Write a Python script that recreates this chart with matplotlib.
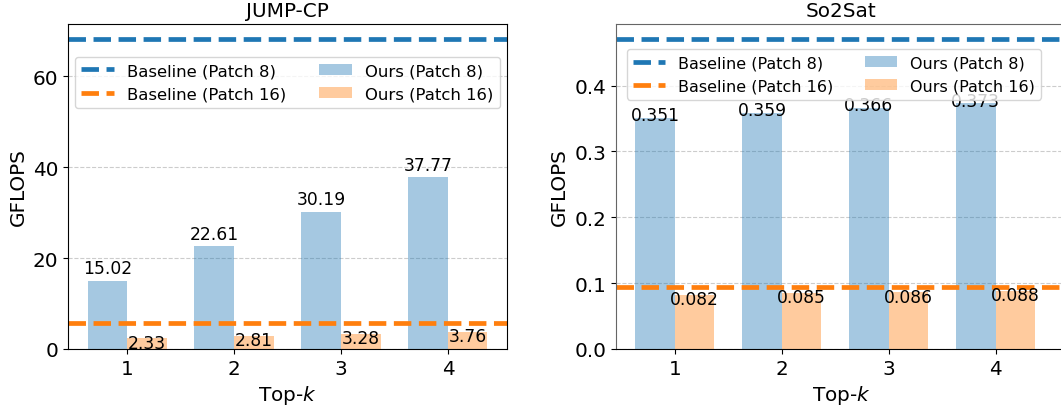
import matplotlib

matplotlib.use("Agg")
import matplotlib.pyplot as plt
from matplotlib.ticker import MultipleLocator
import numpy as np

# ============================================================
# Data
# ============================================================
top_k = [1, 2, 3, 4]

jump_ours_p8 = [15.02, 22.61, 30.19, 37.77]
jump_ours_p16 = [2.33, 2.81, 3.28, 3.76]
jump_base_p8 = 68.1
jump_base_p16 = 5.66

so2sat_ours_p8 = [0.351, 0.359, 0.366, 0.373]
so2sat_ours_p16 = [0.082, 0.085, 0.086, 0.088]
so2sat_base_p8 = 0.470
so2sat_base_p16 = 0.094

BLUE = "#1f77b4"
ORANGE = "#ff7f0e"
WIDTH = 0.37


def _panel(axis, title, ours_p8, ours_p16, base_p8, base_p16, fmt, ystep,
           blue_pad, legend_size, legend_anchor):
    positions = np.array(top_k, dtype=float)
    axis.grid(axis="y", linestyle="--", color="#cccccc", linewidth=0.8)
    axis.set_axisbelow(True)

    axis.axhline(base_p8, color=BLUE, linestyle="--", linewidth=3.4, label="Baseline (Patch 8)")
    axis.axhline(base_p16, color=ORANGE, linestyle="--", linewidth=3.4, label="Baseline (Patch 16)")
    bars_p8 = axis.bar(positions - WIDTH / 2, ours_p8, WIDTH, color=BLUE, alpha=0.4,
                       label="Ours (Patch 8)")
    bars_p16 = axis.bar(positions + WIDTH / 2, ours_p16, WIDTH, color=ORANGE, alpha=0.4,
                        label="Ours (Patch 16)")

    for bar, value in zip(bars_p8, ours_p8):
        axis.annotate(fmt.format(value), (bar.get_x() + bar.get_width() / 2, value),
                      xytext=(0, blue_pad), textcoords="offset points",
                      ha="center", va="center", fontsize=12.3)
    for bar, value in zip(bars_p16, ours_p16):
        axis.annotate(fmt.format(value), (bar.get_x() + bar.get_width() / 2, value),
                      xytext=(0, -3), textcoords="offset points",
                      ha="center", va="center", fontsize=12.3)

    axis.set_ylim(0, max(base_p8, base_p16) * 1.05)
    axis.yaxis.set_major_locator(MultipleLocator(ystep))
    axis.set_xticks(positions)
    axis.set_xticklabels([str(k) for k in top_k])
    axis.tick_params(labelsize=14.4)
    axis.set_title(title, fontsize=14.4)
    axis.set_xlabel("Top-$k$", fontsize=14.4)
    axis.set_ylabel("GFLOPS", fontsize=14.4)
    axis.legend(ncol=2, loc="upper center", bbox_to_anchor=legend_anchor,
                fontsize=legend_size)


# ============================================================
# Figure
# ============================================================
figure = plt.figure(figsize=(10.61, 4.06), dpi=100)
left_axis = figure.add_axes([68.3 / 1061, 56 / 406, 438.4 / 1061, 325 / 406])
right_axis = figure.add_axes([616 / 1061, 56 / 406, 450 / 1061, 325 / 406])

_panel(left_axis, "JUMP-CP", jump_ours_p8, jump_ours_p16, jump_base_p8, jump_base_p16,
       "{:.2f}", 20, 9, 11.85, (0.5, 0.925))
_panel(right_axis, "So2Sat", so2sat_ours_p8, so2sat_ours_p16, so2sat_base_p8, so2sat_base_p16,
       "{:.3f}", 0.1, 2, 11.5, (0.485, 0.948))

left_axis.set_xlim(0.45, 4.55)
right_axis.set_xlim(0.45, 4.55 + 11.6 / 107)
right_axis.spines["right"].set_visible(False)
right_axis.spines["left"].set_color("#666666")
right_axis.spines["top"].set_color("#666666")

figure.savefig("out.png", dpi=100)
plt.close(figure)
